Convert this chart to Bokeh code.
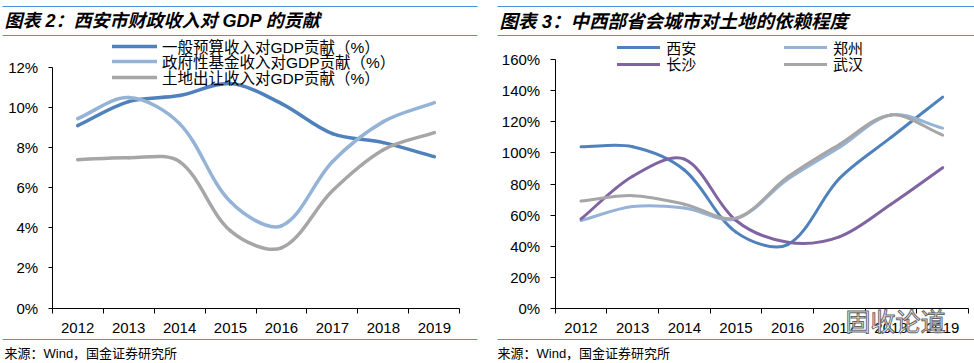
import math
from bokeh.plotting import figure
from bokeh.models import Label, BoxAnnotation, Legend, LegendItem, FixedTicker, Range1d
from bokeh.layouts import row
from bokeh.core.properties import value
from bokeh.embed import file_html
from bokeh.resources import INLINE

# ---------------- data ----------------
years = ["2012", "2013", "2014", "2015", "2016", "2017", "2018", "2019"]

# left chart: contribution to GDP (%)
budget_rev = [9.1, 10.3, 10.6, 11.2, 10.2, 8.7, 8.25, 7.55]
fund_rev = [9.45, 10.5, 9.2, 5.3, 4.1, 7.3, 9.3, 10.25]
land_rev = [7.4, 7.5, 7.3, 3.85, 3.0, 5.85, 7.9, 8.75]
left_names = ["一般预算收入对GDP贡献（%）", "政府性基金收入对GDP贡献（%）", "土地出让收入对GDP贡献（%）"]
left_ticks = [0, 2, 4, 6, 8, 10, 12]

# right chart: land dependence (%)
xian = [104, 104, 89, 49, 41, 83.5, 110, 136]
zhengzhou = [56.5, 65.5, 64.5, 57.5, 83, 103.5, 124.5, 116]
changsha = [57.5, 85, 96, 56.5, 42.5, 46, 67, 90.5]
wuhan = [69, 72.5, 67, 58, 84.5, 105.5, 124.5, 111.5]
right_names = ["西安", "郑州", "长沙", "武汉"]
right_ticks = [0, 20, 40, 60, 80, 100, 120, 140, 160]

left_title = "图表 2：西安市财政收入对 GDP 的贡献"
right_title = "图表 3：中西部省会城市对土地的依赖程度"
source_text = "来源：Wind，国金证券研究所"
watermark = "固收论道"

# ---------------- styles ----------------
FONT = "Liberation Sans, Noto Sans CJK SC"
RULE = "#4A93D6"
BLUE = "#4F81BD"
LBLUE = "#95B3D7"
PURPLE = "#8064A2"
GRAY = "#A6A6A6"
W, H = 487, 363


def smooth_segments(vals, sx, sy):
    """Bezier segments (Excel-like smoothing) through the data points.
    sx, sy: pixels per data unit, so tangents are scaled by on-screen chord lengths."""
    n = len(vals)
    pts = [(i + 0.5, v) for i, v in enumerate(vals)]

    def dist(a, b):
        return math.hypot((a[0] - b[0]) * sx, (a[1] - b[1]) * sy)

    d = dict(x0=[], y0=[], x1=[], y1=[], cx0=[], cy0=[], cx1=[], cy1=[])
    for i in range(n - 1):
        p0 = pts[max(i - 1, 0)]
        p1 = pts[i]
        p2 = pts[i + 1]
        p3 = pts[min(i + 2, n - 1)]
        d01, d12, d23 = dist(p0, p1), dist(p1, p2), dist(p2, p3)
        f1 = d12 / (d01 + d12) / 3.0
        f2 = d12 / (d12 + d23) / 3.0
        d["x0"].append(p1[0]); d["y0"].append(p1[1])
        d["x1"].append(p2[0]); d["y1"].append(p2[1])
        d["cx0"].append(p1[0] + (p2[0] - p0[0]) * f1)
        d["cy0"].append(p1[1] + (p2[1] - p0[1]) * f1)
        d["cx1"].append(p2[0] - (p3[0] - p1[0]) * f2)
        d["cy1"].append(p2[1] - (p3[1] - p1[1]) * f2)
    return d


def lin_range(p0, v0, p1, v1, total):
    k = (v1 - v0) / (p1 - p0)
    return Range1d(v0 - p0 * k, v0 + (total - p0) * k)


def make_fig(ax_left, ax_right, ax_bottom, ax_top, ymax, yticks, ystandoff, ytick_out):
    # ax_*: pixel positions (from figure's top-left) of the plot area corners
    p = figure(width=W, height=H, min_border=0,
               min_border_left=0, min_border_right=0, min_border_top=0, min_border_bottom=0,
               x_range=lin_range(ax_left, 0, ax_right, len(years), W),
               y_range=lin_range(H - ax_bottom, 0, H - ax_top, ymax, H),
               output_backend="svg", toolbar_location=None)
    p.outline_line_color = None
    p.grid.visible = False
    p.background_fill_color = "white"
    p.border_fill_color = "white"
    centers = [i + 0.5 for i in range(len(years))]
    bounds = list(range(len(years) + 1))
    xa = p.xaxis[0]
    xa.fixed_location = 0
    xa.bounds = (0, len(years))
    xa.ticker = FixedTicker(ticks=centers, minor_ticks=bounds)
    xa.major_label_overrides = {c: y for c, y in zip(centers, years)}
    xa.major_tick_out = 0
    xa.major_tick_in = 0
    xa.minor_tick_out = 5
    xa.minor_tick_in = 0
    xa.minor_tick_line_color = "black"
    xa.axis_line_color = "black"
    xa.major_label_standoff = 10
    ya = p.yaxis[0]
    ya.fixed_location = 0
    ya.bounds = (0, ymax)
    ya.ticker = FixedTicker(ticks=yticks, minor_ticks=[])
    ya.major_label_overrides = {t: f"{t}%" for t in yticks}
    ya.major_tick_out = ytick_out
    ya.major_tick_in = 0
    ya.major_tick_line_color = "black"
    ya.axis_line_color = "black"
    ya.major_label_standoff = ystandoff
    for ax in (xa, ya):
        ax.major_label_text_font = FONT
        ax.major_label_text_font_size = "15px"
        ax.major_label_text_color = "black"
    sx = (ax_right - ax_left) / len(years)
    sy = (ax_bottom - ax_top) / ymax
    return p, sx, sy


def add_rule(p, x0, x1, py):
    y = H - py
    p.add_layout(BoxAnnotation(left=x0, right=x1, top=y + 0.6, bottom=y - 0.6,
                               left_units="screen", right_units="screen",
                               top_units="screen", bottom_units="screen",
                               fill_color=RULE, fill_alpha=1, line_color=None))


def add_text(p, x, py, text, size, style="normal", align="left", color="black", **kw):
    p.add_layout(Label(x=x, y=H - py, x_units="screen", y_units="screen", text=text,
                       text_font=FONT, text_font_size=size, text_font_style=style,
                       text_align=align, text_baseline="middle", text_color=color, **kw))


def add_legend(p, r, label, x, py, gw, size, standoff):
    leg = Legend(items=[LegendItem(label=value(label), renderers=[r])],
                 location=(x, H - py - 10), padding=0, margin=0, spacing=0,
                 border_line_color=None, background_fill_alpha=0,
                 glyph_width=gw, glyph_height=20, label_height=20,
                 label_standoff=standoff, label_text_font=FONT,
                 label_text_font_size=size, label_text_color="black")
    p.add_layout(leg)


# ---------------- left chart (page x 0..487) ----------------
pl, lsx, lsy = make_fig(51.7, 459.3, 307.5, 67, 12, left_ticks, 10, 4)
left_series = [(budget_rev, BLUE), (fund_rev, LBLUE), (land_rev, GRAY)]
left_rs = []
for vals, col in left_series:
    r = pl.bezier(line_color=col, line_width=3.5, line_cap="round",
                  **smooth_segments(vals, lsx, lsy))
    left_rs.append(r)
for r, name, py in zip(left_rs, left_names, [46.5, 62, 77.7]):
    add_legend(pl, r, name, 112, py, 45, "15.5px", 5)
for py in [6, 35, 339]:
    add_rule(pl, 2, 477, py)
add_text(pl, 4, 20.8, left_title, "18px", "bold italic")
add_text(pl, 4, 352.5, source_text, "13px")

# ---------------- right chart (page x 487..974) ----------------
OX = 487
pr, rsx, rsy = make_fig(554.7 - OX, 968 - OX, 307.7, 59.3, 160, right_ticks, 10, 5)
right_series = [(xian, BLUE), (zhengzhou, LBLUE), (changsha, PURPLE), (wuhan, GRAY)]
right_rs = []
for vals, col in right_series:
    r = pr.bezier(line_color=col, line_width=3, line_cap="round",
                  **smooth_segments(vals, rsx, rsy))
    right_rs.append(r)
leg_pos = [(617.3, 47.7), (784, 47.7), (617.3, 64.3), (784, 64.3)]
for r, name, (px, py) in zip(right_rs, right_names, leg_pos):
    add_legend(pr, r, name, px - OX, py, 43, "15px", 6)
for py in [6, 35, 339]:
    add_rule(pr, 497 - OX, 974 - OX, py)
add_text(pr, 499 - OX, 20.8, right_title, "18.5px", "bold italic")
add_text(pr, 497 - OX, 352.5, source_text, "13px")
add_text(pr, 895 - OX, 321, watermark, "25px", "normal", "center", "white",
         text_outline_color="#666666")

layout = row(pl, pr)
open("out.html", "w").write(file_html(layout, INLINE))
